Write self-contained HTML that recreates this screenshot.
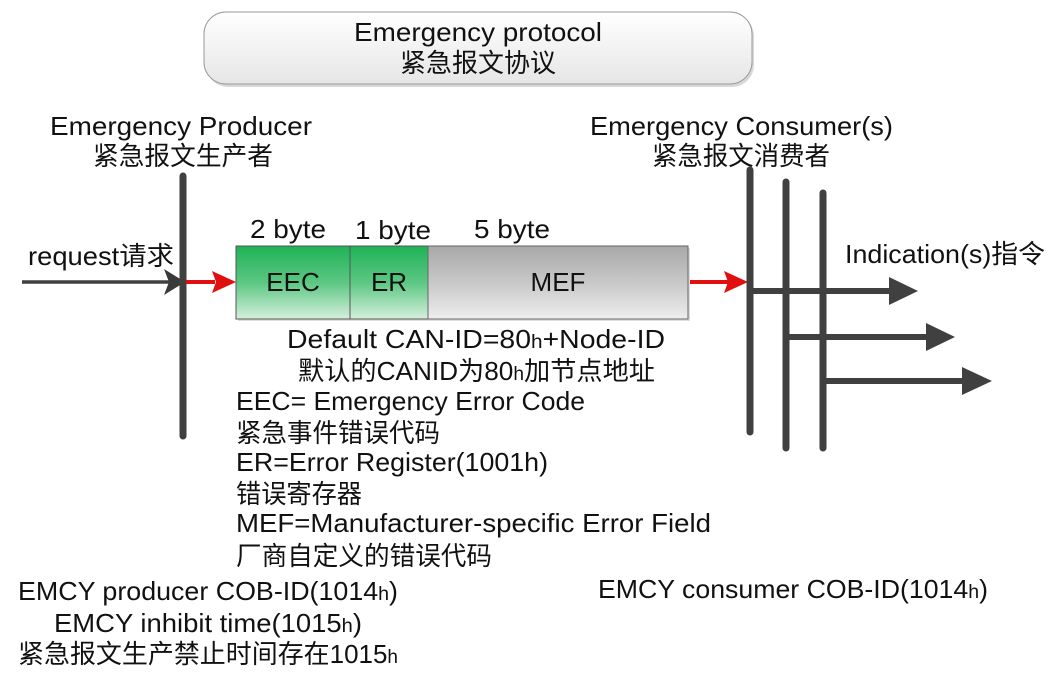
<!DOCTYPE html>
<html><head><meta charset="utf-8"><style>
html,body{margin:0;padding:0;background:#fff;}
svg{display:block;}
text{font-family:"Liberation Sans","Noto Sans CJK SC",sans-serif;font-size:26px;fill:#111;}
</style></head><body>
<svg width="1063" height="685" viewBox="0 0 1063 685" xmlns="http://www.w3.org/2000/svg">
<defs>
<linearGradient id="top" x1="0" y1="0" x2="0" y2="1"><stop offset="0" stop-color="#ffffff"/><stop offset="1" stop-color="#e6e6e6"/></linearGradient>
<linearGradient id="grn" x1="0" y1="0" x2="0" y2="1"><stop offset="0" stop-color="#1fb257"/><stop offset="0.5" stop-color="#5cc783"/><stop offset="1" stop-color="#d6efdd"/></linearGradient>
<linearGradient id="gry" x1="0" y1="0" x2="0" y2="1"><stop offset="0" stop-color="#a8a8a8"/><stop offset="0.5" stop-color="#c8c8c8"/><stop offset="1" stop-color="#eeeeee"/></linearGradient>
</defs>
<rect x="206" y="14" width="548" height="73" rx="22" fill="#d8d8d8"/>
<rect x="204" y="12" width="548" height="72" rx="22" fill="url(#top)" stroke="#999" stroke-width="1"/>
<text x="478" y="41" text-anchor="middle" textLength="248" lengthAdjust="spacingAndGlyphs">Emergency protocol</text>
<text x="478" y="72" text-anchor="middle">紧急报文协议</text>

<text x="50" y="135" textLength="262" lengthAdjust="spacingAndGlyphs">Emergency Producer</text>
<text x="93" y="165" textLength="180" lengthAdjust="spacingAndGlyphs">紧急报文生产者</text>
<text x="590" y="135" textLength="303" lengthAdjust="spacingAndGlyphs">Emergency Consumer(s)</text>
<text x="652" y="165" textLength="178" lengthAdjust="spacingAndGlyphs">紧急报文消费者</text>

<!-- producer -->
<line x1="22" y1="282" x2="170" y2="282" stroke="#404040" stroke-width="3.5"/>
<polygon points="164,269 185,282 164,295 169,282" fill="#3a3a3a"/>
<line x1="183" y1="176" x2="183" y2="436" stroke="#404040" stroke-width="7" stroke-linecap="round"/>
<line x1="186" y1="282" x2="215" y2="282" stroke="#e01010" stroke-width="4"/>
<polygon points="212,271 236,282 212,293 216,282" fill="#e01010"/>
<text x="28" y="265" textLength="146" lengthAdjust="spacingAndGlyphs">request请求</text>

<!-- frame -->
<rect x="238" y="248" width="452" height="73" fill="#ddd"/>
<rect x="236" y="246" width="114" height="73" fill="url(#grn)" stroke="#555" stroke-width="1"/>
<rect x="350" y="246" width="78" height="73" fill="url(#grn)" stroke="#555" stroke-width="1"/>
<rect x="428" y="246" width="260" height="73" fill="url(#gry)" stroke="#666" stroke-width="1"/>
<text x="293" y="291" text-anchor="middle" font-size="27">EEC</text>
<text x="389" y="291" text-anchor="middle" font-size="27">ER</text>
<text x="558" y="291" text-anchor="middle" font-size="27">MEF</text>
<text x="250" y="238" textLength="76" lengthAdjust="spacingAndGlyphs">2 byte</text>
<text x="355" y="239" textLength="76" lengthAdjust="spacingAndGlyphs">1 byte</text>
<text x="474" y="238" textLength="76" lengthAdjust="spacingAndGlyphs">5 byte</text>
<line x1="690" y1="282" x2="728" y2="282" stroke="#e01010" stroke-width="4"/>
<polygon points="724,271 748,282 724,293 728,282" fill="#e01010"/>

<!-- consumers -->
<line x1="750" y1="170" x2="750" y2="432" stroke="#404040" stroke-width="7" stroke-linecap="round"/>
<line x1="786" y1="182" x2="786" y2="448" stroke="#404040" stroke-width="7" stroke-linecap="round"/>
<line x1="823" y1="193" x2="823" y2="448" stroke="#404040" stroke-width="7" stroke-linecap="round"/>
<line x1="750" y1="291" x2="895" y2="291" stroke="#404040" stroke-width="6"/>
<polygon points="889,277 918,291 889,305" fill="#404040"/>
<line x1="786" y1="337" x2="932" y2="337" stroke="#404040" stroke-width="6"/>
<polygon points="926,323 955,337 926,351" fill="#404040"/>
<line x1="823" y1="381" x2="968" y2="381" stroke="#404040" stroke-width="6"/>
<polygon points="962,367 992,381 962,395" fill="#404040"/>
<text x="845" y="263" textLength="200" lengthAdjust="spacingAndGlyphs">Indication(s)指令</text>

<!-- description -->
<text x="287" y="348" textLength="378" lengthAdjust="spacingAndGlyphs">Default CAN-ID=80<tspan font-size="19">h</tspan>+Node-ID</text>
<text x="298" y="380" textLength="357" lengthAdjust="spacingAndGlyphs">默认的CANID为80<tspan font-size="19">h</tspan>加节点地址</text>
<text x="236" y="410" textLength="349" lengthAdjust="spacingAndGlyphs">EEC= Emergency Error Code</text>
<text x="236" y="442" textLength="204" lengthAdjust="spacingAndGlyphs">紧急事件错误代码</text>
<text x="236" y="471" textLength="312" lengthAdjust="spacingAndGlyphs">ER=Error Register(1001h)</text>
<text x="236" y="503" textLength="126" lengthAdjust="spacingAndGlyphs">错误寄存器</text>
<text x="236" y="532" textLength="475" lengthAdjust="spacingAndGlyphs">MEF=Manufacturer-specific Error Field</text>
<text x="236" y="565" textLength="256" lengthAdjust="spacingAndGlyphs">厂商自定义的错误代码</text>

<text x="18" y="600" textLength="380" lengthAdjust="spacingAndGlyphs">EMCY producer COB-ID(1014<tspan font-size="19">h</tspan>)</text>
<text x="54" y="632" textLength="308" lengthAdjust="spacingAndGlyphs">EMCY inhibit time(1015<tspan font-size="19">h</tspan>)</text>
<text x="18" y="663" textLength="380" lengthAdjust="spacingAndGlyphs">紧急报文生产禁止时间存在1015<tspan font-size="19">h</tspan></text>
<text x="598" y="598" textLength="390" lengthAdjust="spacingAndGlyphs">EMCY consumer COB-ID(1014<tspan font-size="19">h</tspan>)</text>
</svg>
</body></html>
